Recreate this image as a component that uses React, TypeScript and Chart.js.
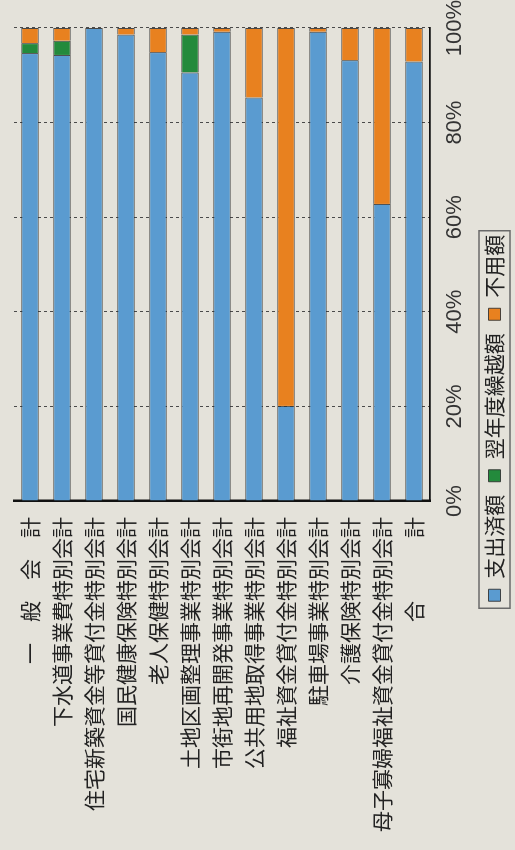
import React, { useEffect, useRef } from "react";
import { Chart, registerables } from "chart.js";

Chart.register(...registerables);

const categories: string[] = [
  "一　般　会　計",
  "下水道事業費特別会計",
  "住宅新築資金等貸付金特別会計",
  "国民健康保険特別会計",
  "老人保健特別会計",
  "土地区画整理事業特別会計",
  "市街地再開発事業特別会計",
  "公共用地取得事業特別会計",
  "福祉資金貸付金特別会計",
  "駐車場事業特別会計",
  "介護保険特別会計",
  "母子寡婦福祉資金貸付金特別会計",
  "合　　　計",
];

const seriesNames: string[] = ["支出済額", "翌年度繰越額", "不用額"];

const spent: number[] = [94.7, 94.3, 100, 98.6, 94.9, 90.6, 99.2, 85.3, 20.1, 99.2, 93.2, 62.8, 92.9];
const carriedOver: number[] = [2.1, 3.0, 0, 0, 0, 8.0, 0, 0, 0, 0, 0, 0, 0];
const unused: number[] = [3.2, 2.7, 0, 1.4, 5.1, 1.4, 0.8, 14.7, 79.9, 0.8, 6.8, 37.2, 7.1];

const percentTicks: number[] = [0, 20, 40, 60, 80, 100];

const W = 850;
const H = 515;
const LEGEND_SHIFT = 21;

const legendBoxPlugin = {
  id: "legendBox",
  afterLayout(chart: any) {
    const lg = chart.legend;
    if (lg) {
      lg.left += LEGEND_SHIFT;
      lg.right += LEGEND_SHIFT;
    }
  },
  afterDraw(chart: any) {
    const lg = chart.legend;
    if (!lg || !lg.legendHitBoxes || !lg.legendHitBoxes.length) return;
    const hb = lg.legendHitBoxes;
    let l = Infinity, r = -Infinity, t = Infinity, b = -Infinity;
    hb.forEach((h: any) => {
      l = Math.min(l, h.left);
      r = Math.max(r, h.left + h.width);
      t = Math.min(t, h.top);
      b = Math.max(b, h.top + h.height);
    });
    const ctx = chart.ctx;
    ctx.save();
    ctx.strokeStyle = "#6a6a6a";
    ctx.lineWidth = 1.5;
    ctx.strokeRect(l - 7, t - 5, r - l + 11, b - t + 10);
    ctx.restore();
  },
};

export default function App() {
  const ref = useRef<HTMLCanvasElement | null>(null);

  useEffect(() => {
    if (!ref.current) return;
    const border = "rgba(45,45,45,0.85)";
    const chart = new Chart(ref.current, {
      type: "bar",
      data: {
        labels: categories,
        datasets: [
          { label: seriesNames[0], data: spent, backgroundColor: "#5a9bd0", borderColor: border, borderWidth: 1 },
          { label: seriesNames[1], data: carriedOver, backgroundColor: "#238a3c", borderColor: border, borderWidth: 1 },
          { label: seriesNames[2], data: unused, backgroundColor: "#e8811f", borderColor: border, borderWidth: 1 },
        ],
      },
      options: {
        indexAxis: "y",
        responsive: false,
        animation: false,
        devicePixelRatio: 1,
        layout: { padding: { left: 0, right: 28, top: 14, bottom: 0 } },
        datasets: { bar: { barPercentage: 0.55, categoryPercentage: 1 } },
        scales: {
          y: {
            stacked: true,
            afterFit: (s: any) => {
              s.width = 349;
              s.paddingTop = 0;
              s.paddingBottom = 0;
            },
            grid: { display: false, drawTicks: false },
            border: { display: true, color: "#111", width: 2.5 },
            ticks: {
              padding: 16,
              color: "#222",
              font: { family: "'Noto Sans CJK JP', 'Noto Sans', sans-serif", size: 21 },
            },
          },
          x: {
            stacked: true,
            min: 0,
            max: 100,
            afterFit: (s: any) => {
              s.height = 41;
              s.paddingLeft = 0;
              s.paddingRight = 0;
            },
            afterBuildTicks: (s: any) => {
              s.ticks = percentTicks.map((v) => ({ value: v }));
            },
            grid: {
              display: true,
              drawTicks: false,
              color: "#4a4a4a",
              lineWidth: 1,
            },
            border: { display: true, color: "#111", width: 1.8, dash: [3, 3] },
            ticks: {
              padding: 12,
              color: "#333",
              maxRotation: 0,
              font: { family: "'Liberation Sans', Arial, sans-serif", size: 22 },
              callback: (v: any) => v + "%",
            },
          },
        },
        plugins: {
          legend: {
            position: "bottom",
            labels: {
              boxWidth: 12,
              boxHeight: 12,
              padding: 13,
              color: "#222",
              font: { family: "'Noto Sans CJK JP', 'Noto Sans', sans-serif", size: 21 },
            },
          },
          tooltip: { enabled: false },
        },
      },
      plugins: [legendBoxPlugin],
    } as any);
    return () => chart.destroy();
  }, []);

  return (
    <div
      style={{
        position: "fixed",
        left: 0,
        top: 0,
        width: 515,
        height: 850,
        overflow: "hidden",
        background: "#e4e2da",
      }}
    >
      <div
        style={{
          position: "absolute",
          left: 0,
          top: 0,
          width: W,
          height: H,
          transformOrigin: "0 0",
          transform: `translate(0px, ${W}px) rotate(-90deg)`,
        }}
      >
        <canvas ref={ref} width={W} height={H} style={{ width: W, height: H, display: "block" }} />
      </div>
    </div>
  );
}
